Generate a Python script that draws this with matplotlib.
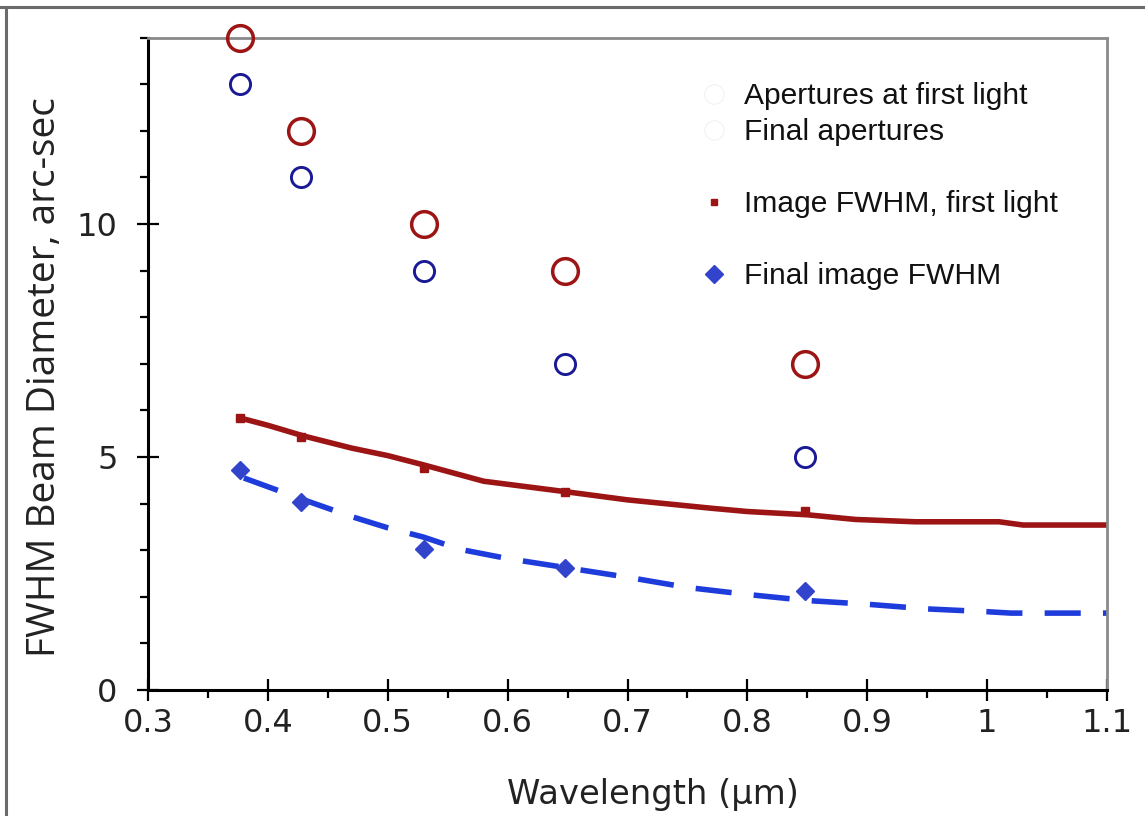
import matplotlib
matplotlib.use("Agg")
import matplotlib.pyplot as plt
from matplotlib.lines import Line2D
import numpy as np

# ---- data ----
wavelengths = [0.377, 0.428, 0.53, 0.648, 0.848]
apert_first = [14, 12, 10, 9, 7]
apert_final = [13, 11, 9, 7, 5]
fwhm_first_pts = [5.84, 5.43, 4.76, 4.25, 3.84]
fwhm_final_pts = [4.72, 4.03, 3.03, 2.62, 2.12]

curve_first_x = [0.375, 0.40, 0.43, 0.47, 0.50, 0.53, 0.58, 0.65, 0.70, 0.77, 0.80, 0.85, 0.89, 0.94, 1.01, 1.03, 1.10]
curve_first_y = [5.85, 5.68, 5.45, 5.19, 5.03, 4.83, 4.48, 4.25, 4.08, 3.90, 3.83, 3.76, 3.66, 3.61, 3.61, 3.54, 3.54]

curve_final_x = [0.38, 0.43, 0.47, 0.50, 0.53, 0.56, 0.60, 0.65, 0.70, 0.75, 0.80, 0.85, 0.90, 0.95, 1.00, 1.02, 1.10]
curve_final_y = [4.55, 4.08, 3.72, 3.48, 3.28, 3.02, 2.82, 2.62, 2.42, 2.20, 2.05, 1.92, 1.84, 1.74, 1.68, 1.65, 1.65]

xticks = [0.3, 0.4, 0.5, 0.6, 0.7, 0.8, 0.9, 1.0, 1.1]
xticklabels = ["0.3", "0.4", "0.5", "0.6", "0.7", "0.8", "0.9", "1", "1.1"]
yticks = [0, 5, 10]
yticklabels = ["0", "5", "10"]

RED = "#9c1414"
NAVY = "#1a1a96"
BLUE = "#1e3cdc"
DIAM = "#3344cc"

fig = plt.figure(figsize=(11.45, 8.16), dpi=100)
ax = fig.add_axes([148/1145, 1-690/816, (1107-148)/1145, (690-37.6)/816])

ax.plot(curve_first_x, curve_first_y, color=RED, lw=4.0, solid_capstyle="butt", zorder=2)
ax.plot(curve_final_x, curve_final_y, color=BLUE, lw=4.0, dashes=(6.5, 4), zorder=2)
ax.plot(wavelengths, fwhm_first_pts, ls="none", marker="s", ms=6, color=RED, zorder=3)
ax.plot(wavelengths, fwhm_final_pts, ls="none", marker="D", ms=9.5, color=DIAM, zorder=3)
ax.plot(wavelengths, apert_first, ls="none", marker="o", ms=18.5, mfc="none", mec=RED, mew=2.5, zorder=4, clip_on=False)
ax.plot(wavelengths, apert_final, ls="none", marker="o", ms=14.5, mfc="none", mec=NAVY, mew=2.1, zorder=4, clip_on=False)

ax.set_xlim(0.3, 1.1)
ax.set_ylim(0, 14)
ax.set_xticks(xticks)
ax.set_xticklabels(xticklabels, fontsize=23, family="DejaVu Sans", color="#222222")
ax.set_xticks(np.arange(0.35, 1.1, 0.1), minor=True)
ax.set_yticks(yticks)
ax.set_yticklabels(yticklabels, fontsize=23, family="DejaVu Sans", color="#222222")
ax.set_yticks([1, 2, 3, 4, 6, 7, 8, 9, 11, 12, 13, 14], minor=True)
ax.tick_params(which="major", direction="inout", length=16, width=1.6, color="black")
ax.tick_params(axis="x", which="major", pad=5)
ax.tick_params(axis="y", which="major", pad=14)
ax.tick_params(which="minor", direction="out", length=6, width=1.6, color="black")

for s in ["left", "bottom"]:
    ax.spines[s].set_linewidth(2.2)
    ax.spines[s].set_color("black")
for s in ["top", "right"]:
    ax.spines[s].set_linewidth(2.0)
    ax.spines[s].set_color("#8a8a8a")

ax.set_xlabel("Wavelength (µm)", fontsize=24.3, family="DejaVu Sans", color="#222222")
ax.xaxis.set_label_coords((653-148)/959, -(778-690)/652.4)
ax.set_ylabel("FWHM Beam Diameter, arc-sec", fontsize=28, family="Open Sans", color="#222222")
ax.yaxis.set_label_coords((64-148)/959, (690-377)/652.4)

handles = [
    Line2D([], [], ls="none", marker="o", ms=14, mfc="none", mec="#f4f4f4", mew=1),
    Line2D([], [], ls="none", marker="o", ms=14, mfc="none", mec="#f4f4f4", mew=1),
    Line2D([], [], ls="none"),
    Line2D([], [], ls="none", marker="s", ms=5, color=RED),
    Line2D([], [], ls="none"),
    Line2D([], [], ls="none", marker="D", ms=9, color=DIAM),
]
labels = ["Apertures at first light", "Final apertures", "", "Image FWHM, first light", "", "Final image FWHM"]
leg = ax.legend(handles, labels, loc="upper left", bbox_to_anchor=((699-148)/959, (690-82)/652.4),
                frameon=False, borderaxespad=0, borderpad=0, handlelength=1.0, handletextpad=0.5,
                labelspacing=0.27, prop={"family": "Liberation Sans", "size": 21.6})
for t in leg.get_texts():
    t.set_color("#111111")

# figure frame lines (top and left)
fig.add_artist(Line2D([0, 1], [1-7/816, 1-7/816], transform=fig.transFigure, color="#6a6a6a", lw=2.2))
fig.add_artist(Line2D([6/1145, 6/1145], [0, 1-7/816], transform=fig.transFigure, color="#6a6a6a", lw=2.2))

fig.savefig("out.png", dpi=100, facecolor="white")
